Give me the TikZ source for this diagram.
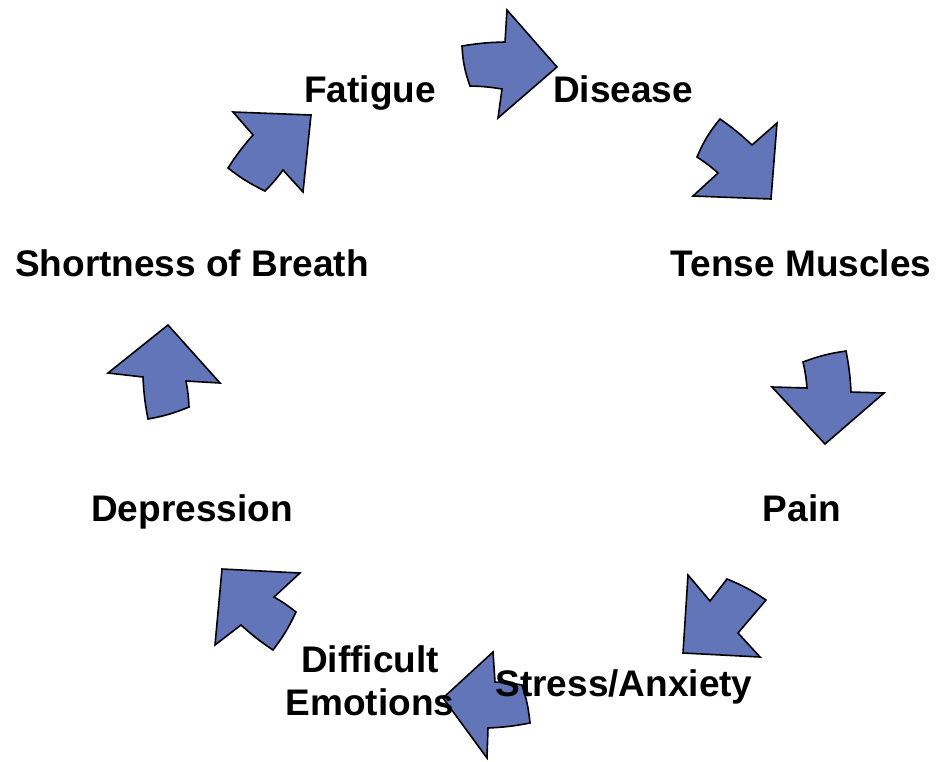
\documentclass[tikz,border=0pt]{standalone}
\usepackage{fontspec}
\setmainfont{Liberation Sans}
\definecolor{arrowblue}{RGB}{98,117,184}
\begin{document}
\begin{tikzpicture}[x=1pt,y=-1pt,
  blockarrow/.style={draw=black,line width=1.6pt,line join=miter,fill=arrowblue},
  lbl/.style={anchor=base,inner sep=0pt,font=\fontsize{37}{43}\selectfont\bfseries}]
\useasboundingbox (0,0) rectangle (937,761);
\fill[white] (0,0) rectangle (937,761);
% arrows
\draw[blockarrow] (462,46) to[bend left=4] (505,42) -- (507,10) -- (557,67) -- (498,118) -- (502,89) to[bend right=4] (470,86) to[bend left=8] cycle;
\draw[blockarrow] (720,119) to[bend left=4] (752,145) -- (777,123) -- (771,199) -- (693,196) -- (718,173) to[bend right=4] (697,157) to[bend left=8] cycle;
\draw[blockarrow] (803,362) to[bend left=6] (846,351) to[bend left=4] (851,392) -- (884,393) -- (825,444) -- (772,387) -- (807,388) to[bend right=4] cycle;
\draw[blockarrow] (688,575) -- (710,601) -- (727,579) to[bend left=6] (766,600) -- (738,633) -- (760,657) -- (683,653) -- cycle;
\draw[blockarrow] (493,652) -- (495,682) to[bend left=4] (522,685) to[bend left=6] (530,723) to[bend left=4] (488,728) -- (487,758) -- (443,698) -- cycle;
\draw[blockarrow] (222,569) -- (300,573) -- (274,597) to[bend left=4] (296,612) to[bend left=6] (273,650) to[bend left=4] (241,625) -- (215,645) -- cycle;
\draw[blockarrow] (168,325) -- (220,383) -- (186,381) to[bend left=4] (189,407) to[bend left=6] (148,419) to[bend left=4] (143,377) -- (108,373) -- cycle;
\draw[blockarrow] (311,115) -- (233,112) -- (253,135) to[bend right=4] (228,168) to[bend right=6] (265,191) to[bend right=4] (283,170) -- (303,192) -- cycle;
% labels
\node[lbl] (fatigue) at (370,102) {Fatigue};
\node[lbl] (disease) at (623,102) {Disease};
\node[lbl] (tense) at (801,276) {Tense Muscles};
\node[lbl] (pain) at (802,521) {Pain};
\node[lbl] (stress) at (624,696) {Stress/Anxiety};
\node[lbl] (difficult) at (370,672) {Difficult};
\node[lbl] (emotions) at (370,715) {Emotions};
\node[lbl] (depression) at (192,521) {Depression};
\node[lbl] (breath) at (192,276) {Shortness of Breath};
\end{tikzpicture}
\end{document}
